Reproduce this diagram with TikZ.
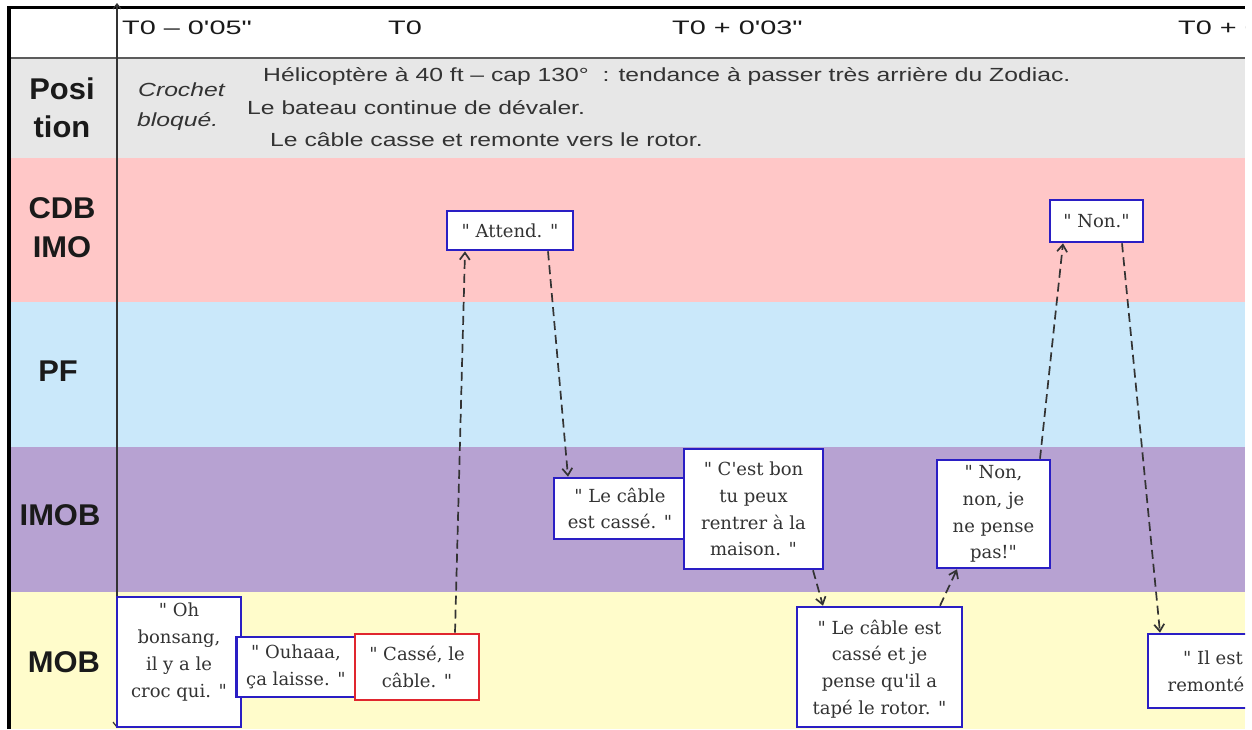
\documentclass[tikz,border=0pt]{standalone}
\usepackage{fontspec}
\usetikzlibrary{arrows.meta}
\setmainfont[Ligatures=TeXOff]{DejaVu Serif}
\newfontfamily\sayfont[Ligatures=TeXOff]{DejaVu Serif}
\newfontfamily\hdrfont[FakeStretch=1.48,Ligatures=TeXOff]{Liberation Sans}
\newfontfamily\posfont[FakeStretch=1.3,Ligatures=TeXOff]{Liberation Sans}
\newfontfamily\labfont[FakeStretch=1.03,Ligatures=TeXOff]{Liberation Sans}

\definecolor{posgray}{HTML}{E7E7E7}
\definecolor{cdbpink}{HTML}{FFC7C7}
\definecolor{pfblue}{HTML}{CAE8FA}
\definecolor{imobpurple}{HTML}{B7A2D2}
\definecolor{mobyellow}{HTML}{FFFCCB}
\definecolor{boxblue}{HTML}{2A1EC4}
\definecolor{boxred}{HTML}{E0262E}
\definecolor{inkgray}{HTML}{333333}
\definecolor{darkink}{HTML}{1A1A1A}

\tikzset{
  frame/.style={draw=black, line width=3.5pt},
  rowrule/.style={draw=inkgray!80, line width=1.8pt},
  timeaxis/.style={draw=inkgray, line width=1.2pt,
    {Straight Barb[length=5pt,width=8pt]}-{Straight Barb[length=5pt,width=8pt]}},
  hdr/.style={font=\hdrfont\fontsize{19.5pt}{22pt}\selectfont, text=darkink, inner sep=0pt, anchor=base west},
  situ/.style={font=\posfont\fontsize{19pt}{22pt}\selectfont, text=inkgray, inner sep=0pt, anchor=base west},
  situit/.style={situ, font=\posfont\itshape\fontsize{19pt}{22pt}\selectfont},
  lab/.style={font=\labfont\bfseries\fontsize{30pt}{30pt}\selectfont, text=darkink, inner sep=0pt, anchor=base},
  bbox/.style={draw=boxblue, line width=2.6pt, fill=white, inner sep=0pt},
  redbox/.style={bbox, draw=boxred},
  say/.style={font=\sayfont\fontsize{18pt}{26.8pt}\selectfont, text=inkgray, align=center, inner sep=0pt},
  conn/.style={draw=inkgray, line width=1.7pt, dash pattern=on 9pt off 5pt,
    -{Straight Barb[length=7pt,width=10pt]}}
}

\begin{document}
\begin{tikzpicture}[x=1pt,y=-1pt]
\useasboundingbox (0,0) rectangle (1252,729);
\fill[white] (0,0) rectangle (1252,729);
\begin{scope}
\clip (0,0) rectangle (1245,729);

% swim lanes
\fill[posgray]    (9,57)  rectangle (1245,158);
\fill[cdbpink]    (9,158) rectangle (1245,302);
\fill[pfblue]     (9,302) rectangle (1245,447);
\fill[imobpurple] (9,447) rectangle (1245,592);
\fill[mobyellow]  (9,592) rectangle (1245,729);

% frame and header rule
\draw[rowrule] (9,58) -- (1245,58);
\draw[frame] (9,729) -- (9,7.5) -- (1245,7.5);

% time axis
\coordinate (axisbot) at (117,728);
\coordinate (axistop) at (117,3);
\draw[timeaxis] (axisbot) -- (axistop);

% time marks
\node[hdr] (tm1) at (122,34) {T0 – 0'05"};
\node[hdr] (tm2) at (388,34) {T0};
\node[hdr] (tm3) at (672,34) {T0 + 0'03"};
\node[hdr] (tm4) at (1178,34) {T0 + 0};

% lane titles
\node[lab] (posA) at (62,99)  {Posi};
\node[lab] (posB) at (62,137) {tion};
\node[lab] (cdbA) at (62,218) {CDB};
\node[lab] (cdbB) at (62,257) {IMO};
\node[lab] (pf)   at (58,381) {PF};
\node[lab] (imob) at (60,525) {IMOB};
\node[lab] (mob)  at (64,672) {MOB};

% situation
\node[situit] (cr1) at (138,96)  {Crochet};
\node[situit] (cr2) at (137,126) {bloqué.};
\node[situ] (s1) at (263,81)  {Hélicoptère à 40 ft – cap 130°~~: tendance à passer très arrière du Zodiac.};
\node[situ] (s2) at (247,114) {Le bateau continue de dévaler.};
\node[situ] (s3) at (270,146) {Le câble casse et remonte vers le rotor.};

% utterances
\node[bbox, minimum width=124pt, minimum height=130pt,
  label={[say, yshift=10pt]center:{" Oh\\bonsang,\\il y a le\\croc qui. "}}] (oh) at (179,662) {};
\node[bbox, minimum width=119pt, minimum height=60pt,
  label={[say]center:{" Ouhaaa,\\ça laisse. "}}] (ouh) at (296,667) {};
\node[redbox, minimum width=124pt, minimum height=66pt,
  label={[say]center:{" Cassé, le\\câble. "}}] (casse) at (417,667) {};
\node[bbox, minimum width=126pt, minimum height=39pt,
  label={[say]center:{" Attend. "}}] (attend) at (510,230.5) {};
\node[bbox, minimum width=132pt, minimum height=61pt,
  label={[say]center:{" Le câble\\est cassé. "}}] (cable) at (620,508.5) {};
\node[bbox, minimum width=139pt, minimum height=120pt,
  label={[say]center:{" C'est bon\\tu peux\\rentrer à la\\maison. "}}] (bon) at (753.5,509) {};
\node[bbox, minimum width=165pt, minimum height=120pt,
  label={[say, yshift=-2pt]center:{" Le câble est\\cassé et je\\pense qu'il a\\tapé le rotor. "}}] (rotor) at (879.5,667) {};
\node[bbox, minimum width=113pt, minimum height=108pt,
  label={[say]center:{" Non,\\non, je\\ne pense\\pas!"}}] (nonnon) at (993.5,514) {};
\node[bbox, minimum width=93pt, minimum height=42pt,
  label={[say]center:{" Non."}}] (non) at (1096.5,221) {};
\node[bbox, minimum width=130pt, minimum height=74pt,
  label={[say]center:{" Il est\\remonté."}}] (remonte) at (1213,671) {};

% exchanges
\draw[conn] ([xshift=38pt]casse.north)   -- ([xshift=-45pt]attend.south);
\draw[conn] ([xshift=38pt]attend.south)  -- ([xshift=-52pt]cable.north);
\draw[conn] ([xshift=59.5pt]bon.south)   -- ([xshift=-56.5pt]rotor.north);
\draw[conn] ([xshift=60.5pt]rotor.north) -- ([xshift=-36.5pt]nonnon.south);
\draw[conn] ([xshift=46.5pt]nonnon.north) -- ([xshift=-33.5pt]non.south);
\draw[conn] ([xshift=25.5pt]non.south)   -- ([xshift=-53pt]remonte.north);
\end{scope}
\end{tikzpicture}
\end{document}
